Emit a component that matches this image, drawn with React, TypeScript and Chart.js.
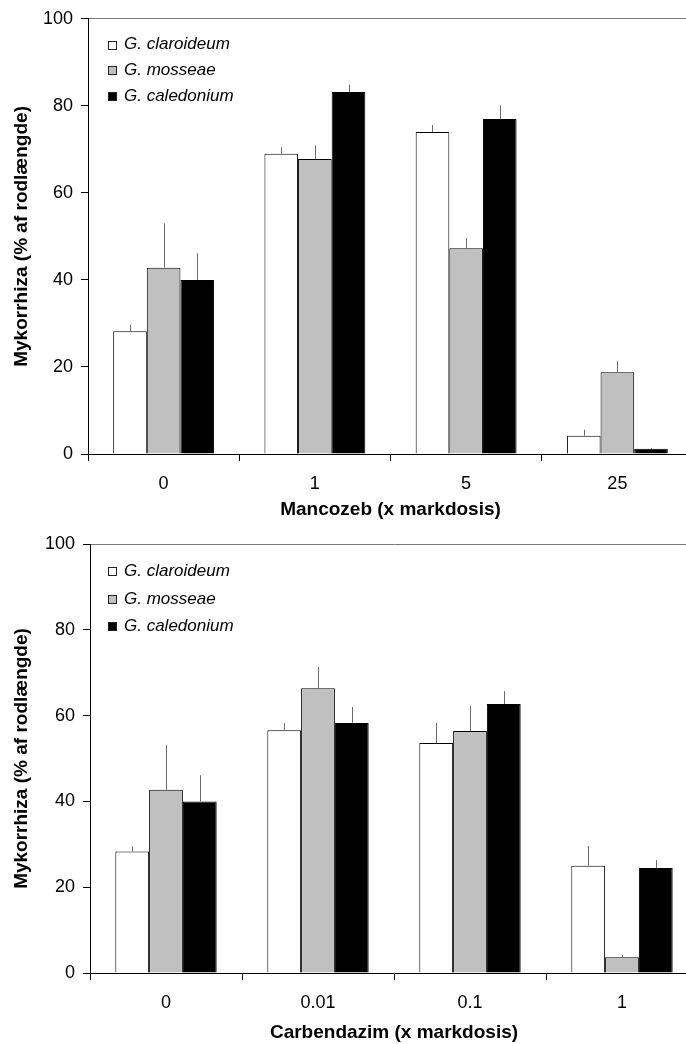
import React, { useEffect, useRef } from 'react';
import { Chart, registerables } from 'chart.js';

Chart.register(...registerables);

const FONT = 'Arial, "Liberation Sans", Helvetica, sans-serif';

// Species (series) shared by both panels
const speciesNames = ['G. claroideum', 'G. mosseae', 'G. caledonium'];
const speciesColors = ['#ffffff', '#c0c0c0', '#000000'];

// Y axis ticks (% of root length)
const yTicks = [0, 20, 40, 60, 80, 100];

// Panel 1: Mancozeb dose (x field dose)
const mancozebDoses = ['0', '1', '5', '25'];
const mancozebClaroideum = [28.2, 69.0, 74.0, 4.2];
const mancozebClaroideumErr = [1.5, 1.5, 1.6, 1.4];
const mancozebMosseae = [42.8, 67.8, 47.3, 18.8];
const mancozebMosseaeErr = [10.2, 3.1, 2.3, 2.5];
const mancozebCaledonium = [40.0, 83.2, 77.0, 1.2];
const mancozebCaledoniumErr = [6.1, 1.7, 3.1, 0.2];

// Panel 2: Carbendazim dose (x field dose)
const carbendazimDoses = ['0', '0.01', '0.1', '1'];
const carbendazimClaroideum = [28.3, 56.6, 53.6, 25.0];
const carbendazimClaroideumErr = [1.2, 1.6, 4.7, 4.6];
const carbendazimMosseae = [42.7, 66.4, 56.4, 3.7];
const carbendazimMosseaeErr = [10.4, 4.9, 5.8, 0.5];
const carbendazimCaledonium = [40.0, 58.3, 62.7, 24.5];
const carbendazimCaledoniumErr = [6.1, 3.7, 3.0, 1.8];

// Upward-only error whiskers drawn from the top of each bar
const errorWhiskers = {
  id: 'errorWhiskers',
  afterDatasetsDraw(chart: any) {
    const { ctx } = chart;
    const yScale = chart.scales.y;
    ctx.save();
    ctx.strokeStyle = '#6a6a6a';
    ctx.lineWidth = 1;
    chart.data.datasets.forEach((ds: any, i: number) => {
      const meta = chart.getDatasetMeta(i);
      meta.data.forEach((bar: any, j: number) => {
        const v = ds.data[j];
        const e = ds.errorBars ? ds.errorBars[j] : 0;
        if (!e) return;
        const x = Math.round(bar.x) + 0.5;
        const yTop = yScale.getPixelForValue(v + e);
        ctx.beginPath();
        ctx.moveTo(x, bar.y);
        ctx.lineTo(x, yTop);
        ctx.stroke();
      });
    });
    ctx.restore();
  },
};

// Species key placed inside the plot area, upper left
const speciesKey = {
  id: 'speciesKey',
  afterDraw(chart: any, _args: any, opts: any) {
    const { ctx, chartArea } = chart;
    if (!opts || !opts.rows) return;
    ctx.save();
    ctx.font = `italic 17px ${FONT}`;
    ctx.textBaseline = 'middle';
    ctx.textAlign = 'left';
    chart.data.datasets.forEach((ds: any, i: number) => {
      const cy = chartArea.top + opts.rows[i];
      const bx = Math.round(chartArea.left + opts.boxX);
      const by = Math.round(cy - 4);
      ctx.fillStyle = ds.backgroundColor;
      ctx.fillRect(bx, by, 9, 9);
      ctx.strokeStyle = '#222';
      ctx.lineWidth = 1;
      ctx.strokeRect(bx + 0.5, by + 0.5, 8, 8);
      ctx.fillStyle = '#000';
      ctx.fillText(ds.label, chartArea.left + opts.textX, cy);
    });
    ctx.restore();
  },
};

type PanelProps = {
  doses: string[];
  values: number[][];
  errors: number[][];
  xTitle: string;
  top: number;
  height: number;
  padTop: number;
  axisY: number;
  padRight: number;
  yAxisWidth: number;
  titlePad: number;
  keyLayout: { boxX: number; textX: number; rows: number[] };
};

function DosePanel(props: PanelProps) {
  const ref = useRef<HTMLCanvasElement | null>(null);
  const W = 700;

  useEffect(() => {
    if (!ref.current) return;
    const chart = new Chart(ref.current, {
      type: 'bar',
      data: {
        labels: props.doses,
        datasets: speciesNames.map((name, i) => ({
          label: name,
          data: props.values[i],
          errorBars: props.errors[i],
          backgroundColor: speciesColors[i],
          borderColor: '#000',
          borderWidth: 1,
          categoryPercentage: 0.667,
          barPercentage: 1.0,
        })) as any,
      },
      options: {
        responsive: false,
        animation: false,
        devicePixelRatio: 1,
        layout: { padding: { top: props.padTop, right: props.padRight, left: 0, bottom: 0 } },
        plugins: {
          legend: { display: false },
          tooltip: { enabled: false },
          speciesKey: props.keyLayout,
        } as any,
        scales: {
          x: {
            grid: {
              offset: true,
              drawOnChartArea: false,
              drawTicks: true,
              tickLength: 7,
              tickColor: '#000',
            },
            border: { display: true, color: '#000', width: 1 },
            ticks: {
              color: '#000',
              padding: 12,
              font: { family: FONT, size: 18 },
              maxRotation: 0,
            },
            title: {
              display: true,
              text: props.xTitle,
              color: '#000',
              font: { family: FONT, size: 19, weight: 'bold' },
              padding: { top: 0, bottom: props.titlePad },
            },
            afterFit: (s: any) => {
              s.height = props.height - props.axisY;
            },
          },
          y: {
            min: 0,
            max: 100,
            afterBuildTicks: (s: any) => {
              s.ticks = yTicks.map((v) => ({ value: v }));
            },
            grid: {
              drawOnChartArea: true,
              drawTicks: true,
              tickLength: 7,
              tickColor: '#000',
              color: (c: any) => (c.tick && c.tick.value === 100 ? '#7a7a7a' : 'rgba(0,0,0,0)'),
            },
            border: { display: true, color: '#000', width: 1 },
            ticks: {
              color: '#000',
              padding: 8,
              font: { family: FONT, size: 18 },
            },
            title: {
              display: true,
              text: 'Mykorrhiza (% af rodlængde)',
              color: '#000',
              font: { family: FONT, size: 19, weight: 'bold' },
              padding: { top: 10, bottom: 0 },
            },
            afterFit: (s: any) => {
              s.width = props.yAxisWidth;
            },
          },
        },
      },
      plugins: [errorWhiskers, speciesKey],
    });
    return () => chart.destroy();
  }, []);

  return (
    <canvas
      ref={ref}
      width={W}
      height={props.height}
      style={{ position: 'absolute', left: 0, top: props.top, width: W, height: props.height }}
    />
  );
}

export default function App() {
  return (
    <div
      style={{
        position: 'fixed',
        left: 0,
        top: 0,
        width: 686,
        height: 1044,
        overflow: 'hidden',
        background: '#fff',
      }}
    >
      <DosePanel
        doses={mancozebDoses}
        values={[mancozebClaroideum, mancozebMosseae, mancozebCaledonium]}
        errors={[mancozebClaroideumErr, mancozebMosseaeErr, mancozebCaledoniumErr]}
        xTitle="Mancozeb (x markdosis)"
        top={0}
        height={522}
        padTop={17}
        axisY={454}
        padRight={7}
        yAxisWidth={88}
        titlePad={1}
        keyLayout={{ boxX: 19.5, textX: 36, rows: [25.7, 51, 77] }}
      />
      <DosePanel
        doses={carbendazimDoses}
        values={[carbendazimClaroideum, carbendazimMosseae, carbendazimCaledonium]}
        errors={[carbendazimClaroideumErr, carbendazimMosseaeErr, carbendazimCaledoniumErr]}
        xTitle="Carbendazim (x markdosis)"
        top={522}
        height={522}
        padTop={22}
        axisY={451}
        padRight={2}
        yAxisWidth={90}
        titlePad={0}
        keyLayout={{ boxX: 18, textX: 34, rows: [27, 55, 82] }}
      />
    </div>
  );
}
